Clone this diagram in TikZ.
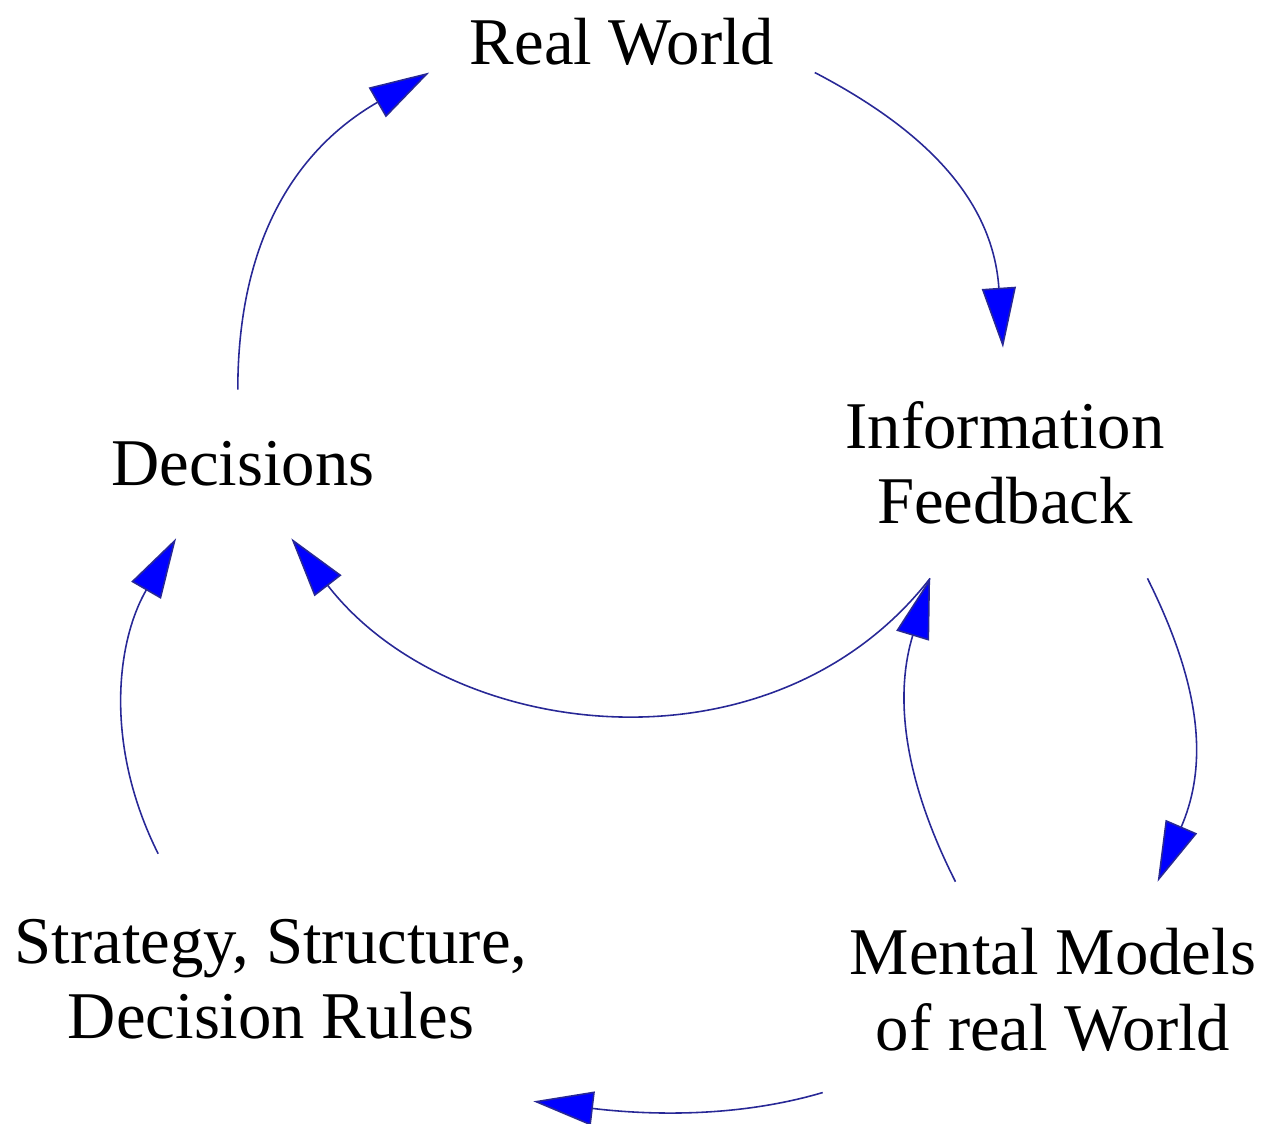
\documentclass[tikz,border=0pt]{standalone}
\usepackage{fontspec}
\setmainfont{Liberation Serif}
\usetikzlibrary{arrows.meta}
\definecolor{linkblue}{RGB}{40,40,150}

\begin{document}
\begin{tikzpicture}[x=0.02cm,y=-0.02cm,
        box/.style={inner sep=0pt,align=center,font=\fontsize{38}{43}\selectfont},
        link/.style={draw=linkblue,line width=0.9pt,
            -{Triangle[length=1.2cm,width=0.68cm,fill=blue]}}]
        \useasboundingbox (0,0) rectangle (1264,1123);
        \node[box,minimum width=7.7cm,minimum height=1.6cm] (rw) at (622,42) {Real World};
        \node[box,minimum height=2.96cm] (dec) at (243,464) {Decisions};
        \node[box,minimum height=4.6cm] (info) at (1005,463) {Information\\Feedback};
        \node[box,minimum width=9.2cm,minimum height=4.32cm] (mm) at (1053,990) {Mental Models\\of real World};
        \node[box,minimum width=10.48cm,minimum height=5cm] (strat) at (271,979) {Strategy, Structure,\\Decision Rules};
        \draw[link] (dec.94.6) .. controls +(0,-160) and +(-125,72) .. (rw.189.9);
        \draw[link] (rw.351.9) .. controls +(115,60) and +(-10,-145) .. (info.91);
        \draw[link] (info.237) .. controls +(-158,203) and +(158,204) .. (dec.303.9);
        \draw[link] (info.321) .. controls +(55,110) and +(50,-116) .. (mm.46.9);
        \draw[link] (mm.132.2) .. controls +(-54,-107) and +(-35,115) .. (info.237);
        \draw[link] (mm.204.7) .. controls +(-95,28) and +(100,12) .. (strat.335.5);
        \draw[link] (strat.132.6) .. controls +(-54,-108) and +(-60,104) .. (dec.228.3);
    \end{tikzpicture}
\end{document}
